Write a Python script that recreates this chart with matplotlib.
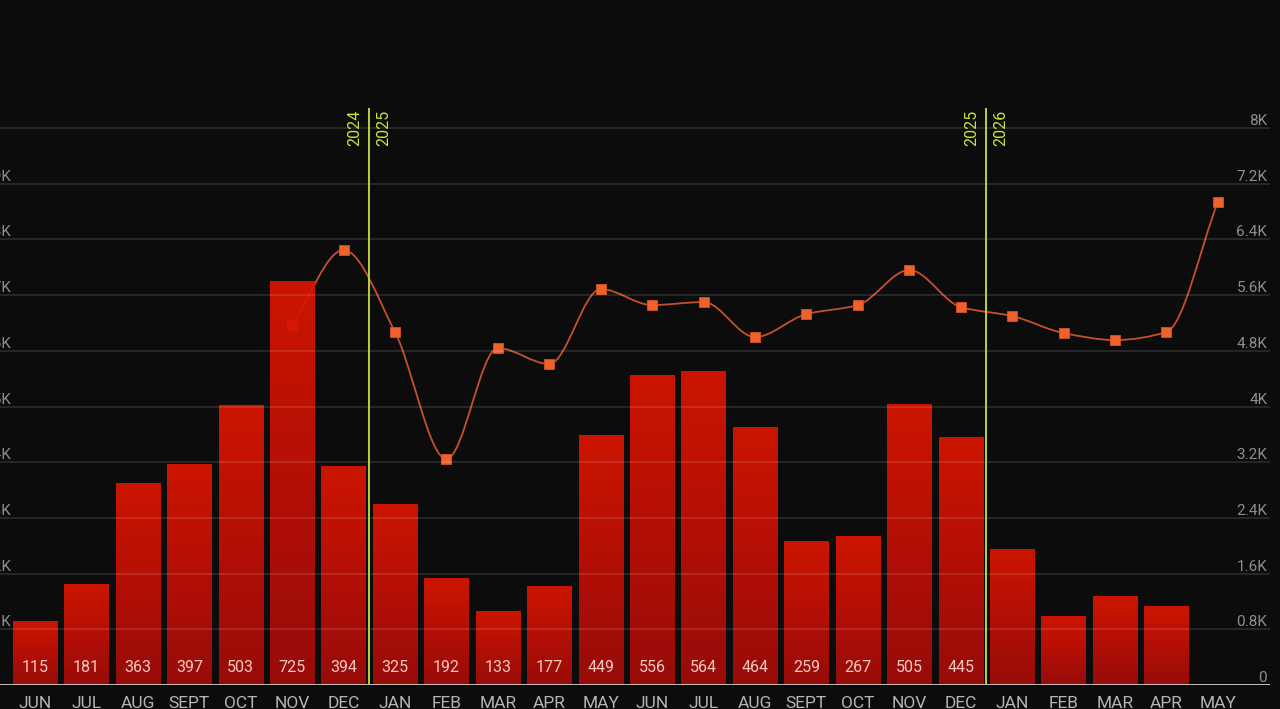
import numpy as np
import matplotlib
matplotlib.use("Agg")
import matplotlib.pyplot as plt
from matplotlib.path import Path
from matplotlib.patches import PathPatch
from matplotlib.colors import LinearSegmentedColormap
import matplotlib.transforms as mtransforms

months = ["JUN", "JUL", "AUG", "SEPT", "OCT", "NOV", "DEC", "JAN", "FEB", "MAR", "APR", "MAY",
          "JUN", "JUL", "AUG", "SEPT", "OCT", "NOV", "DEC", "JAN", "FEB", "MAR", "APR", "MAY"]
bar_values = [115, 181, 363, 397, 503, 725, 394, 325, 192, 133, 177, 449,
              556, 564, 464, 259, 267, 505, 445, 245, 123, 159, 141, 0]
bar_labels = ["115", "181", "363", "397", "503", "725", "394", "325", "192", "133", "177", "449",
              "556", "564", "464", "259", "267", "505", "445", "", "", "", "", ""]
# line series (right axis), starts at NOV 2024 (index 5)
line_start = 5
line_values = [5170, 6247, 5069, 3245, 4839, 4610, 5687, 5457, 5500, 4997, 5328,
               5457, 5960, 5428, 5299, 5055, 4954, 5069, 6936]
right_ticks = [0, 800, 1600, 2400, 3200, 4000, 4800, 5600, 6400, 7200, 8000]
right_tick_labels = ["0", "0.8K", "1.6K", "2.4K", "3.2K", "4K", "4.8K", "5.6K", "6.4K", "7.2K", "8K"]
left_ticks = [100, 200, 300, 400, 500, 600, 700, 800, 900]
left_tick_labels = ["0.1K", "0.2K", "0.3K", "0.4K", "0.5K", "0.6K", "0.7K", "0.8K", "0.9K"]
year_breaks = [(6.5, "2024", "2025"), (18.5, "2025", "2026")]

BG = "#0c0c0c"
FONT = ["Liberation Sans Narrow", "Roboto", "DejaVu Sans"]
plt.rcParams["font.family"] = FONT

fig = plt.figure(figsize=(12.8, 7.09), dpi=100, facecolor=BG)
rect = [0.0, 24 / 709, 1270 / 1280, 577 / 709]
ax = fig.add_axes(rect)          # line axis (right ticks)
ax.set_facecolor(BG)
ax2 = ax.twinx()                 # bar axis (left ticks), drawn on top
ax2.patch.set_visible(False)

xmin = -0.6806
xmax = xmin + 1270 / 51.43
RIGHT_MAX = 8000 * 577 / 557
LEFT_MAX = RIGHT_MAX / 8

x = np.arange(len(months))

# ---- bars with gradient ----
cmap = LinearSegmentedColormap.from_list("redgrad", ["#a30d0a", "#c21006", "#dc1600"])
grad = np.linspace(0, 1, 256).reshape(-1, 1)
bw = 0.86
bars = ax2.bar(x, bar_values, width=bw, color="none", edgecolor="none", zorder=2)
for b in bars:
    h = b.get_height()
    if h <= 0:
        continue
    x0 = b.get_x()
    im = ax2.imshow(grad, cmap=cmap, origin="lower", aspect="auto",
                    extent=[x0, x0 + bw, 0, h], zorder=2, alpha=0.93,
                    interpolation="bilinear")
    im.set_clip_path(b)

for xi, lab in zip(x, bar_labels):
    if lab:
        ax2.annotate(lab, (xi, 0), xytext=(0, 18), textcoords="offset pixels",
                     ha="center", va="center", color="#f3c9c0", fontsize=11.5, zorder=5)

# ---- smooth line (monotone cubic) behind bars ----
lx = np.arange(line_start, line_start + len(line_values)).astype(float)
ly = np.array(line_values, dtype=float)
n = len(lx)
d = np.diff(ly) / np.diff(lx)
m = np.zeros(n)
m[0] = d[0]
m[-1] = d[-1]
for i in range(1, n - 1):
    if d[i - 1] * d[i] <= 0:
        m[i] = 0
    else:
        m[i] = 2 / (1 / d[i - 1] + 1 / d[i])
verts = [(lx[0], ly[0])]
codes = [Path.MOVETO]
for i in range(n - 1):
    h = lx[i + 1] - lx[i]
    verts += [(lx[i] + h / 3, ly[i] + m[i] * h / 3),
              (lx[i + 1] - h / 3, ly[i + 1] - m[i + 1] * h / 3),
              (lx[i + 1], ly[i + 1])]
    codes += [Path.CURVE4] * 3
ax.add_patch(PathPatch(Path(verts, codes), facecolor="none", edgecolor="#c4502c", lw=1.3, zorder=3))
ax.plot(lx, ly, ls="none", marker="s", ms=6.5, color="#f0622c", mec="#d8501f", mew=0.6, zorder=4)

# ---- grid over bars (faint) ----
for t in right_ticks[1:]:
    ax2.axhline(t / 8, color="white", alpha=0.11, lw=1.5, zorder=3)
ax2.axhline(0, color="#d0d0d0", lw=2, zorder=6)

# ---- year separators ----
for xb, y1, y2 in year_breaks:
    ax2.axvline(xb, color="#b8d43c", lw=1.4, zorder=6)
    trans = mtransforms.blended_transform_factory(ax2.transData, ax2.transAxes)
    ax2.annotate(y1, (xb, 1.0), xycoords=trans, xytext=(-7, -2), textcoords="offset pixels",
                 rotation=90, ha="right", va="top", color="#c9e63a", fontsize=11.5, zorder=6)
    ax2.annotate(y2, (xb, 1.0), xycoords=trans, xytext=(7, -2), textcoords="offset pixels",
                 rotation=90, ha="left", va="top", color="#c9e63a", fontsize=11.5, zorder=6)

# ---- axes config ----
for a in (ax, ax2):
    a.set_xlim(xmin, xmax)
    for s in a.spines.values():
        s.set_visible(False)
ax.set_ylim(0, RIGHT_MAX)
ax2.set_ylim(0, LEFT_MAX)

ax.yaxis.tick_right()
ax.set_yticks(right_ticks)
ax.set_yticklabels(right_tick_labels)
ax.tick_params(axis="y", length=0, pad=-2, colors="#8e8e8e", labelsize=11)
for lbl in ax.get_yticklabels():
    lbl.set_horizontalalignment("right")
    lbl.set_verticalalignment("bottom")

ax2.yaxis.tick_left()
ax2.set_yticks(left_ticks)
ax2.set_yticklabels(left_tick_labels)
ax2.tick_params(axis="y", length=0, pad=-8, colors="#8e8e8e", labelsize=11)
for lbl in ax2.get_yticklabels():
    lbl.set_horizontalalignment("right")
    lbl.set_verticalalignment("bottom")

ax.set_xticks(x)
ax.set_xticklabels(months)
ax.tick_params(axis="x", length=0, pad=8, colors="#b4b4b4", labelsize=12.5)
ax2.tick_params(axis="x", length=0, labelbottom=False)

fig.savefig("out.png", dpi=100, facecolor=BG)
